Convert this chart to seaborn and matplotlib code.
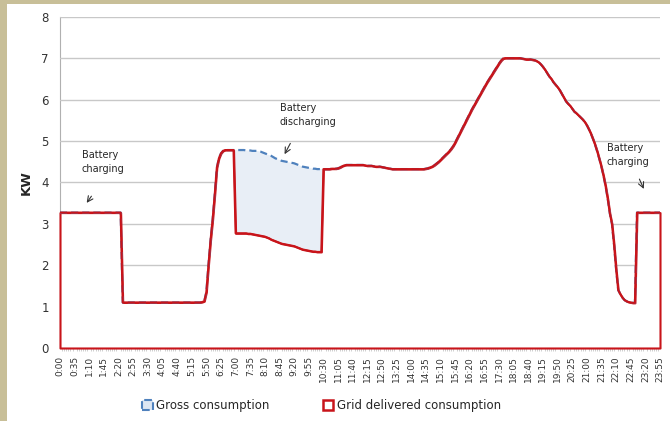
import numpy as np
import pandas as pd
import seaborn as sns
import matplotlib.pyplot as plt
from matplotlib.patches import Patch, Rectangle

# 5-minute slots over one day
times = [f"{m // 60}:{m % 60:02d}" for m in range(0, 1440, 5)]

# grid delivered consumption (kW), one row per hour, 12 readings each
grid_kw = [
    3.27, 3.27, 3.27, 3.27, 3.27, 3.27, 3.27, 3.27, 3.27, 3.27, 3.27, 3.27,  # 0h
    3.27, 3.27, 3.27, 3.27, 3.27, 3.27, 3.27, 3.27, 3.27, 3.27, 3.27, 3.27,  # 1h
    3.27, 3.27, 3.27, 3.27, 3.27, 3.27, 1.10, 1.10, 1.10, 1.10, 1.10, 1.10,  # 2h
    1.10, 1.10, 1.10, 1.10, 1.10, 1.10, 1.10, 1.10, 1.10, 1.10, 1.10, 1.10,  # 3h
    1.10, 1.10, 1.10, 1.10, 1.10, 1.10, 1.10, 1.10, 1.10, 1.10, 1.10, 1.10,  # 4h
    1.10, 1.10, 1.10, 1.10, 1.10, 1.10, 1.10, 1.10, 1.11, 1.13, 1.35, 2.00,  # 5h
    2.60, 3.10, 3.70, 4.35, 4.58, 4.70, 4.76, 4.78, 4.78, 4.78, 4.78, 4.78,  # 6h
    2.77, 2.77, 2.77, 2.77, 2.77, 2.77, 2.76, 2.76, 2.75, 2.74, 2.73, 2.72,  # 7h
    2.71, 2.70, 2.69, 2.67, 2.65, 2.62, 2.60, 2.58, 2.56, 2.54, 2.52, 2.51,  # 8h
    2.50, 2.49, 2.48, 2.47, 2.46, 2.44, 2.42, 2.40, 2.38, 2.37, 2.36, 2.35,  # 9h
    2.34, 2.33, 2.33, 2.32, 2.32, 2.32, 4.32, 4.32, 4.32, 4.32, 4.33, 4.33,  # 10h
    4.33, 4.34, 4.36, 4.39, 4.41, 4.42, 4.42, 4.42, 4.42, 4.42, 4.42, 4.42,  # 11h
    4.42, 4.42, 4.41, 4.40, 4.40, 4.40, 4.39, 4.38, 4.38, 4.38, 4.37, 4.36,  # 12h
    4.35, 4.34, 4.33, 4.32, 4.32, 4.32, 4.32, 4.32, 4.32, 4.32, 4.32, 4.32,  # 13h
    4.32, 4.32, 4.32, 4.32, 4.32, 4.32, 4.32, 4.33, 4.34, 4.36, 4.38, 4.41,  # 14h
    4.45, 4.49, 4.54, 4.59, 4.64, 4.69, 4.74, 4.80, 4.87, 4.96, 5.06, 5.16,  # 15h
    5.26, 5.36, 5.46, 5.56, 5.66, 5.76, 5.85, 5.94, 6.03, 6.12, 6.21, 6.30,  # 16h
    6.39, 6.47, 6.55, 6.63, 6.71, 6.79, 6.87, 6.94, 6.99, 7.00, 7.00, 7.00,  # 17h
    7.00, 7.00, 7.00, 7.00, 7.00, 6.99, 6.98, 6.97, 6.97, 6.97, 6.96, 6.95,  # 18h
    6.93, 6.90, 6.85, 6.79, 6.72, 6.64, 6.56, 6.50, 6.42, 6.36, 6.30, 6.23,  # 19h
    6.14, 6.05, 5.96, 5.90, 5.85, 5.78, 5.71, 5.67, 5.62, 5.57, 5.52, 5.46,  # 20h
    5.38, 5.28, 5.17, 5.04, 4.90, 4.74, 4.56, 4.37, 4.15, 3.90, 3.60, 3.25,  # 21h
    3.00, 2.50, 1.90, 1.40, 1.30, 1.22, 1.16, 1.13, 1.11, 1.10, 1.09, 1.09,  # 22h
    3.27, 3.27, 3.27, 3.27, 3.27, 3.27, 3.27, 3.27, 3.27, 3.27, 3.27, 3.27,  # 23h
]

# gross consumption while the battery discharges (7:00 - 10:25)
gross_discharge = [
    4.78, 4.78, 4.78, 4.78, 4.78, 4.77, 4.77, 4.77, 4.76, 4.76, 4.76, 4.75,
    4.74, 4.72, 4.70, 4.68, 4.66, 4.64, 4.61, 4.58, 4.56, 4.54, 4.52, 4.51,
    4.50, 4.49, 4.48, 4.47, 4.46, 4.44, 4.42, 4.40, 4.38, 4.37, 4.36, 4.35,
    4.34, 4.33, 4.33, 4.32, 4.32, 4.32,
]
gross_kw = grid_kw[:84] + gross_discharge + grid_kw[126:]

df = pd.DataFrame({'slot': np.arange(len(times)), 'time': times,
                   'gross': gross_kw, 'grid': grid_kw})

RED = '#c8141a'
BLUE = '#4f81bd'
FILL = '#e8eef6'

sns.set_style("whitegrid")
plt.rcParams['font.family'] = ['DejaVu Sans']

fig = plt.figure(figsize=(6.7, 4.21), dpi=100, facecolor='#c8bf98')
fig.add_artist(Rectangle((7 / 670, 0), 1, 1 - 4 / 421, transform=fig.transFigure,
                         facecolor='white', edgecolor='none', zorder=-1))
ax = fig.add_axes([60 / 670, 73 / 421, 600 / 670, 331.3 / 421])
ax.set_facecolor('white')

ax.fill_between(df['slot'], 0, df['gross'], facecolor=FILL, edgecolor='none', zorder=1)
# area outline in Excel style: runs down the ends and along zero
ax.fill_between(df['slot'], 0, df['grid'], facecolor='white', edgecolor=RED,
                linewidth=1.5, zorder=4, clip_on=False)
sns.lineplot(data=df, x='slot', y='gross', ax=ax, color=BLUE, linewidth=1.6,
             linestyle=(0, (3.2, 1.8)), zorder=5)
sns.lineplot(data=df, x='slot', y='grid', ax=ax, color=RED, linewidth=1.5, zorder=6)

ax.set_xlim(0, len(times) - 1)
ax.set_ylim(0, 8)
ax.set_yticks(range(9))
ax.set_yticklabels([str(v) for v in range(9)], fontsize=8.5, color='#333333')
ax.set_xticks(df['slot'][::7])
ax.set_xticklabels(df['time'][::7], rotation=90, fontsize=6.5, color='#333333')
ax.set_xticks(df['slot'], minor=True)
ax.tick_params(axis='x', which='major', length=4, color='#aaaaaa', width=0.6, pad=2)
ax.tick_params(axis='x', which='minor', length=2.5, color='#bbbbbb', width=0.5, bottom=True)
ax.tick_params(axis='y', length=3, color='#c8c8c8', pad=5)
ax.grid(axis='y', color='#c8c8c8', linewidth=1)
ax.grid(axis='x', visible=False)
ax.set_axisbelow(True)
for side in ['top', 'right']:
    ax.spines[side].set_visible(False)
ax.spines['left'].set_color('#b0b0b0')
ax.spines['bottom'].set_color('#b0b0b0')
ax.spines['left'].set_zorder(0.5)
ax.spines['bottom'].set_zorder(0.5)

ax.set_xlabel('')
ax.set_ylabel('KW', fontsize=9.5, fontweight='bold')
ax.yaxis.set_label_coords(-27 / 600, 0.5)

# annotations
arrow = dict(arrowstyle='->', color='#333333', lw=0.8)
ax.text(10.5, 4.78, 'Battery\ncharging', fontsize=7, va='top', ha='left', linespacing=1.5)
ax.annotate('', xy=(12.0, 3.45), xytext=(15.8, 3.72), arrowprops=arrow)
ax.text(105.2, 5.92, 'Battery\ndischarging', fontsize=7, va='top', ha='left', linespacing=1.5)
ax.annotate('', xy=(106.8, 4.62), xytext=(110.8, 5.0), arrowprops=arrow)
ax.text(261.5, 4.95, 'Battery\ncharging', fontsize=7, va='top', ha='left', linespacing=1.5)
ax.annotate('', xy=(279.8, 3.78), xytext=(276.6, 4.14), arrowprops=arrow)

handles = [Patch(facecolor='#dde6f2', edgecolor=BLUE, linestyle='--', linewidth=1.5),
           Patch(facecolor='white', edgecolor=RED, linewidth=1.8)]
fig.legend(handles, ['Gross consumption', 'Grid delivered consumption'],
           loc='center', bbox_to_anchor=(0.48, 0.036), ncol=2, frameon=False,
           fontsize=8.5, handlelength=0.9, handleheight=0.9, handletextpad=0.3,
           columnspacing=4.5)

fig.savefig('out.png', dpi=100, facecolor=fig.get_facecolor())
